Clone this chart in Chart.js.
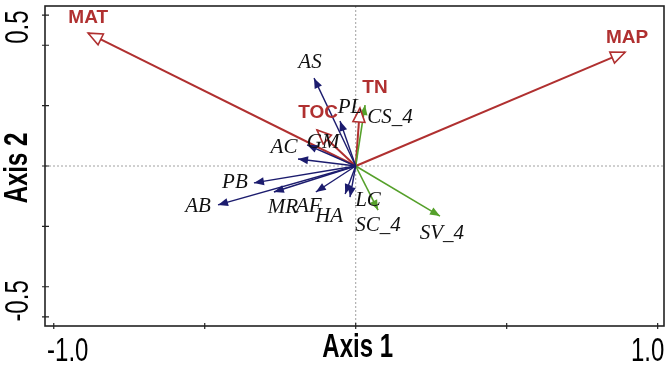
<!DOCTYPE html>
<html lang="en">
<head>
    <meta charset="UTF-8">
    <title>RDA biplot</title>
    <script src="https://cdn.jsdelivr.net/npm/chart.js"></script>
    <style>
        html, body { margin: 0; padding: 0; background: #fff; }
        #wrap { width: 667px; height: 367px; }
    </style>
</head>
<body>
    <div id="wrap"><canvas id="chart" width="667" height="367"></canvas></div>

    <script>
        // Environmental variables (red, open arrow heads)
        const envNames = ['MAT', 'MAP', 'TN', 'TOC'];
        const envX = [-0.886, 0.892, 0.014, -0.128];
        const envY = [0.440, 0.377, 0.192, 0.119];

        // Taxa (blue)
        const taxaNames = ['AS', 'PL', 'GM', 'AC', 'PB', 'AB', 'MR', 'AF', 'HA', 'LC'];
        const taxaX = [-0.138, -0.052, -0.161, -0.191, -0.337, -0.456, -0.271, -0.132, -0.035, -0.019];
        const taxaY = [0.291, 0.149, 0.070, 0.023, -0.056, -0.129, -0.086, -0.086, -0.093, -0.103];

        // Groups (green)
        const groupNames = ['CS_4', 'SC_4', 'SV_4'];
        const groupX = [0.031, 0.074, 0.279];
        const groupY = [0.202, -0.146, -0.166];

        // Axis ticks
        const xTicks = [-1, -0.5, 0, 0.5, 1];
        const yTicks = [0.5, 0.4, 0.2, 0, -0.2, -0.4, -0.5];
        const xTickLabels = { '-1': '-1.0', '1': '1.0' };
        const yTickLabels = { '0.5': '0.5', '-0.5': '-0.5' };

        const RED = '#b03030';
        const BLUE = '#1c1c6e';
        const GREEN = '#55a02a';

        // label offsets in pixels from the arrow tip
        const labelOffsets = {
            MAT: [0, -15], MAP: [2, -14], TN: [15, -20], TOC: [1, -17],
            AS: [-4, -16], PL: [10, -14], GM: [16, -2], AC: [-14, -12],
            PB: [-19, 0], AB: [-20, 2], MR: [9, 16], AF: [-7, 15],
            HA: [-16, 22], LC: [18, 3],
            CS_4: [25, 12], SC_4: [0, 15], SV_4: [2, 17]
        };

        function makeSets(names, xs, ys, color, width, kind) {
            return names.map((n, i) => ({
                label: n,
                data: [{ x: 0, y: 0 }, { x: xs[i], y: ys[i] }],
                showLine: true,
                borderColor: color,
                borderWidth: width,
                pointRadius: 0,
                kind: kind,
                color: color
            }));
        }

        const datasets = [
            ...makeSets(taxaNames, taxaX, taxaY, BLUE, 1.4, 'taxa'),
            ...makeSets(groupNames, groupX, groupY, GREEN, 1.6, 'group'),
            ...makeSets(envNames, envX, envY, RED, 2, 'env')
        ];

        // dotted zero lines under the arrows
        const zeroLines = {
            id: 'zeroLines',
            beforeDatasetsDraw(chart) {
                const { ctx, chartArea: a, scales: { x, y } } = chart;
                ctx.save();
                ctx.strokeStyle = '#888';
                ctx.lineWidth = 0.8;
                ctx.setLineDash([2, 2]);
                ctx.beginPath();
                ctx.moveTo(a.left, y.getPixelForValue(0));
                ctx.lineTo(a.right, y.getPixelForValue(0));
                ctx.moveTo(x.getPixelForValue(0), a.top);
                ctx.lineTo(x.getPixelForValue(0), a.bottom);
                ctx.stroke();
                ctx.restore();
            }
        };

        // arrow heads and labels
        const arrows = {
            id: 'arrows',
            afterDatasetsDraw(chart) {
                const { ctx, scales: { x, y } } = chart;
                ctx.save();
                chart.data.datasets.forEach(ds => {
                    const p = ds.data[1];
                    const tx = x.getPixelForValue(p.x), ty = y.getPixelForValue(p.y);
                    const ox = x.getPixelForValue(0), oy = y.getPixelForValue(0);
                    const len = Math.hypot(tx - ox, ty - oy);
                    const ux = (tx - ox) / len, uy = (ty - oy) / len;
                    const L = ds.kind === 'env' ? 14 : 10;
                    const W = ds.kind === 'env' ? 6 : 4;
                    ctx.beginPath();
                    ctx.moveTo(tx, ty);
                    ctx.lineTo(tx - L * ux - W * uy, ty - L * uy + W * ux);
                    ctx.lineTo(tx - L * ux + W * uy, ty - L * uy - W * ux);
                    ctx.closePath();
                    if (ds.kind === 'env') {
                        ctx.fillStyle = '#fff';
                        ctx.fill();
                        ctx.strokeStyle = ds.color;
                        ctx.lineWidth = 1.6;
                        ctx.setLineDash([]);
                        ctx.stroke();
                    } else {
                        ctx.fillStyle = ds.color;
                        ctx.fill();
                    }
                });
                // labels
                ctx.textAlign = 'center';
                ctx.textBaseline = 'middle';
                chart.data.datasets.forEach(ds => {
                    const p = ds.data[1];
                    const off = labelOffsets[ds.label] || [0, 0];
                    const lx = x.getPixelForValue(p.x) + off[0];
                    const ly = y.getPixelForValue(p.y) + off[1];
                    if (ds.kind === 'env') {
                        ctx.font = 'bold 19px "Liberation Sans", Arial, sans-serif';
                        ctx.fillStyle = RED;
                    } else {
                        ctx.font = 'italic 21px "Liberation Serif", "Times New Roman", serif';
                        ctx.fillStyle = '#111';
                    }
                    ctx.fillText(ds.label, lx, ly);
                });
                ctx.restore();
            }
        };

        // box, ticks and axis text
        function tallText(ctx, text, px, py, rot, font) {
            ctx.save();
            ctx.translate(px, py);
            ctx.rotate(rot);
            ctx.scale(1, 1.38);
            ctx.font = font;
            ctx.textAlign = 'center';
            ctx.textBaseline = 'middle';
            ctx.fillStyle = '#000';
            ctx.fillText(text, 0, 0);
            ctx.restore();
        }

        const frame = {
            id: 'frame',
            afterDraw(chart) {
                const { ctx, chartArea: a, scales: { x, y } } = chart;
                ctx.save();
                ctx.strokeStyle = '#222';
                ctx.lineWidth = 1.6;
                ctx.strokeRect(a.left, a.top, a.right - a.left, a.bottom - a.top);
                ctx.lineWidth = 1.2;
                ctx.beginPath();
                xTicks.forEach(v => {
                    const px = x.getPixelForValue(v);
                    ctx.moveTo(px, a.bottom - 3);
                    ctx.lineTo(px, a.bottom + 3);
                });
                yTicks.forEach(v => {
                    const py = y.getPixelForValue(v);
                    ctx.moveTo(a.left - 3, py);
                    ctx.lineTo(a.left + 4, py);
                });
                ctx.stroke();
                ctx.restore();

                const tickFont = '24px "Liberation Sans", Arial, sans-serif';
                const titleFont = 'bold 24px "Liberation Sans", Arial, sans-serif';
                // x tick labels, nudged inward like the original
                tallText(ctx, xTickLabels['-1'], x.getPixelForValue(-1) + 14, 352, 0, tickFont);
                tallText(ctx, xTickLabels['1'], x.getPixelForValue(1) - 10, 352, 0, tickFont);
                tallText(ctx, 'Axis 1', x.getPixelForValue(0) + 2, 348, 0, titleFont);
                // y tick labels (rotated)
                tallText(ctx, yTickLabels['0.5'], 19, y.getPixelForValue(0.5) + 12, -Math.PI / 2, tickFont);
                tallText(ctx, yTickLabels['-0.5'], 19, y.getPixelForValue(-0.5) - 16, -Math.PI / 2, tickFont);
                tallText(ctx, 'Axis 2', 18, y.getPixelForValue(0) + 2, -Math.PI / 2, titleFont);
            }
        };

        new Chart(document.getElementById('chart').getContext('2d'), {
            type: 'scatter',
            data: { datasets: datasets },
            options: {
                responsive: false,
                animation: false,
                layout: { padding: { left: 45, top: 6, right: 3, bottom: 41 } },
                plugins: { legend: { display: false }, tooltip: { enabled: false } },
                scales: {
                    x: { display: false, min: -1.029, max: 1.021 },
                    y: { display: false, min: -0.53, max: 0.53 }
                }
            },
            plugins: [zeroLines, arrows, frame]
        });
    </script>
</body>
</html>
